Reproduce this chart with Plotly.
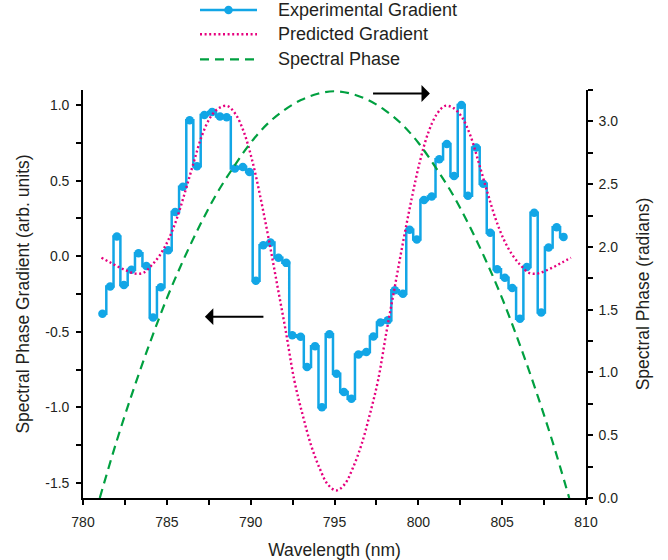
import plotly.graph_objects as go

# ---------------- data ----------------
exp_wavelength = [781.16, 781.62, 782.02, 782.44, 782.89, 783.31, 783.78, 784.18, 784.64, 785.08,
                  785.50, 785.96, 786.36, 786.80, 787.24, 787.70, 788.17, 788.57, 789.06, 789.53,
                  789.93, 790.31, 790.75, 791.18, 791.66, 792.12, 792.48, 792.98, 793.36, 793.84,
                  794.25, 794.70, 795.12, 795.56, 796.01, 796.43, 796.90, 797.32, 797.74, 798.18,
                  798.60, 799.08, 799.48, 799.91, 800.34, 800.80, 801.25, 801.70, 802.13, 802.57,
                  802.96, 803.45, 803.87, 804.29, 804.70, 805.16, 805.60, 806.06, 806.47, 806.91,
                  807.33, 807.77, 808.25, 808.66]
exp_gradient = [-0.38, -0.20, 0.13, -0.19, -0.09, 0.02, -0.065, -0.405, -0.205, 0.04,
                0.293, 0.46, 0.90, 0.596, 0.934, 0.955, 0.925, 0.92, 0.58, 0.59,
                0.558, -0.163, 0.073, 0.09, -0.01, -0.044, -0.523, -0.533, -0.733, -0.595,
                -1.0, -0.517, -0.778, -0.898, -0.943, -0.65, -0.634, -0.532, -0.439, -0.424,
                -0.225, -0.249, 0.175, 0.11, 0.372, 0.395, 0.642, 0.742, 0.531, 1.0,
                0.40, 0.719, 0.479, 0.156, -0.086, -0.143, -0.21, -0.413, -0.071, 0.288,
                -0.373, 0.058, 0.192, 0.128]

pred_wavelength = [781.1, 781.6, 782.1, 782.6, 783.1, 783.6, 784.1, 784.6, 785.1, 785.6,
                   786.1, 786.6, 787.1, 787.6, 788.1, 788.6, 789.1, 789.6, 790.1, 790.6,
                   791.1, 791.6, 792.1, 792.6, 793.1, 793.6, 794.1, 794.6, 795.1, 795.6,
                   796.1, 796.6, 797.1, 797.6, 798.1, 798.6, 799.1, 799.6, 800.1, 800.6,
                   801.1, 801.6, 802.1, 802.6, 803.1, 803.6, 804.1, 804.6, 805.1, 805.6,
                   806.1, 806.6, 807.1, 807.6, 808.1, 808.6, 809.1]
pred_gradient = [-0.01, -0.04, -0.07, -0.095, -0.115, -0.11, -0.06, 0.01, 0.11, 0.25,
                 0.43, 0.62, 0.80, 0.92, 0.98, 0.995, 0.94, 0.82, 0.63, 0.38,
                 0.10, -0.20, -0.50, -0.82, -1.05, -1.25, -1.40, -1.51, -1.55, -1.51,
                 -1.40, -1.25, -1.05, -0.82, -0.50, -0.20, 0.10, 0.38, 0.63, 0.82,
                 0.94, 0.995, 0.98, 0.92, 0.80, 0.62, 0.43, 0.25, 0.11, 0.01,
                 -0.06, -0.11, -0.115, -0.095, -0.07, -0.04, -0.01]

phase_wavelength = [781, 782, 783, 784, 785, 786, 787, 788, 789, 790, 791, 792, 793, 794, 795,
                    796, 797, 798, 799, 800, 801, 802, 803, 804, 805, 806, 807, 808, 809]
phase_radians = [0.00, 0.45, 0.86, 1.24, 1.59, 1.90, 2.18, 2.43, 2.64, 2.83, 2.98, 3.09, 3.17, 3.22, 3.24,
                 3.22, 3.17, 3.09, 2.98, 2.83, 2.64, 2.43, 2.18, 1.90, 1.59, 1.24, 0.86, 0.45, 0.00]

series_names = ["Experimental Gradient", "Predicted Gradient", "Spectral Phase"]

x_ticks = [780, 785, 790, 795, 800, 805, 810]
left_tickvals = [-1.5, -1.0, -0.5, 0.0, 0.5, 1.0]
left_ticktext = ["-1.5", "-1.0", "-0.5", "0.0", "0.5", "1.0"]
right_tickvals = [0.0, 0.5, 1.0, 1.5, 2.0, 2.5, 3.0]
right_ticktext = ["0.0", "0.5", "1.0", "1.5", "2.0", "2.5", "3.0"]

# ---------------- styling ----------------
FONT = "Liberation Sans, Arial, sans-serif"
TXT = "#231f20"
BLUE = "#12a6e6"
PINK = "#e6007e"
GREEN = "#00a040"
W, H = 668, 560
ML, MR, MT, MB = 83, 82, 90, 62
PW, PH = W - ML - MR, H - MT - MB


def px_to_paper_x(px):
    return (px - ML) / PW


def py_to_paper_y(py):
    return (H - MB - py) / PH


blue_line = dict(color=BLUE, width=2.5, shape="hvh")
pink_line = dict(color=PINK, width=2.4, dash="2px,2.6px", shape="spline")
green_line = dict(color=GREEN, width=2.2, dash="9px,6px", shape="spline")

fig = go.Figure()
fig.add_trace(go.Scatter(
    x=exp_wavelength, y=exp_gradient, name=series_names[0],
    mode="lines+markers", line=blue_line,
    marker=dict(color=BLUE, size=8.5), yaxis="y", showlegend=False))
fig.add_trace(go.Scatter(
    x=pred_wavelength, y=pred_gradient, name=series_names[1],
    mode="lines", line=pink_line, yaxis="y", showlegend=False))
fig.add_trace(go.Scatter(
    x=phase_wavelength, y=phase_radians, name=series_names[2],
    mode="lines", line=green_line, yaxis="y2", showlegend=False))

axis_common = dict(showgrid=False, zeroline=False, showline=True, linecolor="black",
                   linewidth=1.6, ticks="outside", ticklen=5, tickwidth=1.5, tickcolor="black",
                   automargin=False,
                   tickfont=dict(family=FONT, size=14, color=TXT))
title_font = dict(family=FONT, size=17.5, color=TXT)

fig.update_layout(
    width=W, height=H,
    margin=dict(l=ML, r=MR, t=MT, b=MB, autoexpand=False),
    paper_bgcolor="white", plot_bgcolor="white",
    font=dict(family=FONT, color=TXT),
    showlegend=False,
    xaxis=dict(range=[780, 810], tickvals=x_ticks, ticklabelstandoff=5,
               minor=dict(ticks="outside", ticklen=5, dtick=2.5, tickcolor="black", tickwidth=1.5),
               title=dict(text="Wavelength (nm)", font=title_font, standoff=16),
               **axis_common),
    yaxis=dict(range=[-1.6, 1.1], tickvals=left_tickvals, ticktext=left_ticktext, ticklabelstandoff=4,
               minor=dict(ticks="outside", ticklen=5, dtick=0.25, tickcolor="black", tickwidth=1.5),
               title=dict(text="Spectral Phase Gradient (arb. units)", font=title_font, standoff=11),
               **axis_common),
    yaxis2=dict(range=[0, 3.25], overlaying="y", side="right", tickvals=right_tickvals,
                ticktext=right_ticktext, ticklabelstandoff=3,
                minor=dict(ticks="outside", ticklen=5, dtick=0.25, tickcolor="black", tickwidth=1.5),
                title=dict(text="Spectral Phase (radians)", font=title_font, standoff=19),
                **axis_common),
)

# ---------------- legend (drawn above the plot) ----------------
legend_rows_px = [10, 34.3, 59.3]
legend_line_px = (200, 257)
legend_text_px = 276
legend_styles = [blue_line, pink_line, green_line]
for name, row, style in zip(series_names, legend_rows_px, legend_styles):
    yp = py_to_paper_y(row)
    fig.add_shape(type="line", xref="paper", yref="paper",
                  x0=px_to_paper_x(legend_line_px[0]), x1=px_to_paper_x(legend_line_px[1]),
                  y0=yp, y1=yp,
                  line=dict(color=style["color"], width=style["width"], dash=style.get("dash", "solid")))
    fig.add_annotation(x=px_to_paper_x(legend_text_px), y=yp, xref="paper", yref="paper",
                       text=name, showarrow=False, xanchor="left", yanchor="middle",
                       font=dict(family=FONT, size=18, color=TXT))
# marker on the experimental legend sample
ym = py_to_paper_y(legend_rows_px[0])
xm = px_to_paper_x((legend_line_px[0] + legend_line_px[1]) / 2)
fig.add_shape(type="circle", xref="paper", yref="paper", xsizemode="pixel", ysizemode="pixel",
              xanchor=xm, yanchor=ym, x0=-4.25, x1=4.25, y0=-4.25, y1=4.25,
              fillcolor=BLUE, line=dict(color=BLUE, width=0))

# ---------------- arrows pointing to the relevant axes ----------------
fig.add_annotation(x=787.27, y=-0.40, ax=790.85, ay=-0.40, xref="x", yref="y", axref="x", ayref="y",
                   text="", showarrow=True, arrowhead=1, arrowsize=1.4, arrowwidth=2, arrowcolor="black")
fig.add_annotation(x=800.69, y=1.077, ax=797.21, ay=1.077, xref="x", yref="y", axref="x", ayref="y",
                   text="", showarrow=True, arrowhead=1, arrowsize=1.4, arrowwidth=2, arrowcolor="black")

fig.write_html("out.html", config={"displayModeBar": False},
               post_script="document.body.style.margin='0px';")
